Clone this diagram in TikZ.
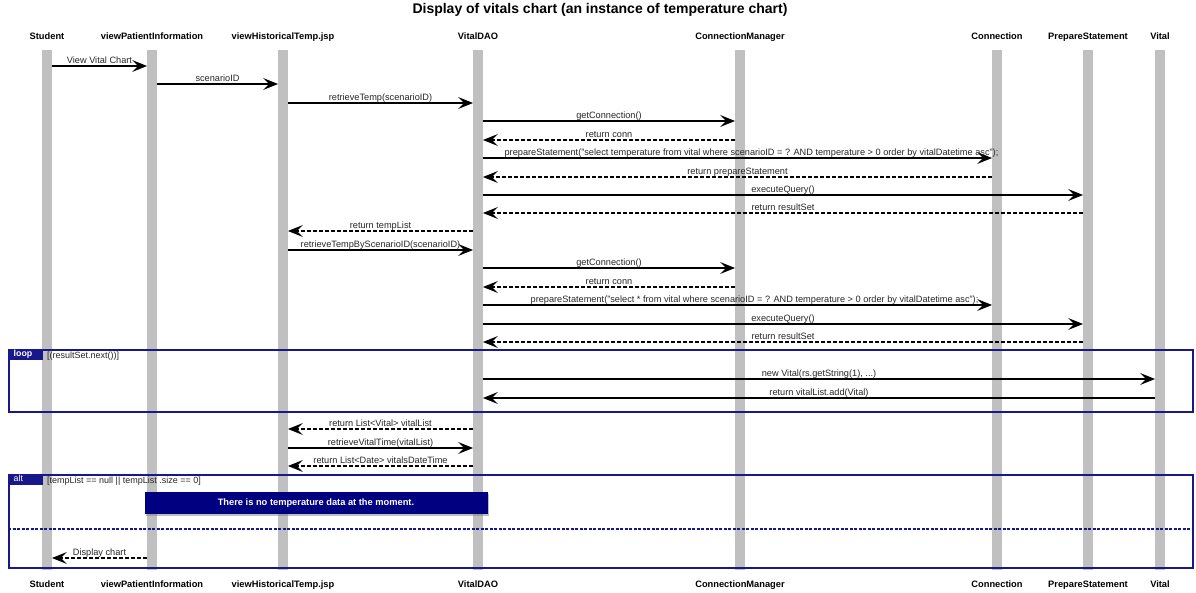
\documentclass[tikz,border=0pt]{standalone}
\usepackage{fontspec}
\setmainfont{Liberation Sans}
\usetikzlibrary{arrows.meta,shadows}
\definecolor{framec}{RGB}{24,24,140}
\definecolor{notec}{RGB}{0,0,128}
\definecolor{barc}{RGB}{192,192,192}
\newcommand\msgr[5][]{\draw[msgline,#1] (#2.east |- 0,#4) -- node[lbl] (T#4) {#5} (#3.west |- 0,#4);}
\newcommand\msgl[5][]{\draw[msgline,#1] (#2.west |- 0,#4) -- node[lbl] (T#4) {#5} (#3.east |- 0,#4);}
\begin{document}
\begin{tikzpicture}[x=1pt,y=-1pt,
  lifebar/.style={fill=barc,draw=none,minimum width=9.5pt,minimum height=520pt,inner sep=0pt},
  hdr/.style={font=\fontsize{9.3}{11}\selectfont\bfseries,inner sep=0pt,text height=7pt,text depth=2pt},
  lbl/.style={above,inner sep=0.3pt,font=\fontsize{9.2}{10}\selectfont,text=black!85,text height=6.8pt,text depth=1.6pt},
  msgline/.style={line width=1.2pt,-{Stealth[length=15pt,width=12pt,inset=6pt]}},
  ret/.style={dash pattern=on 4pt off 2pt},
  seqframe/.style={draw=framec,line width=1.8pt,fill=none,inner sep=0pt,anchor=north west,minimum width=1184pt},
  tabbox/.style={fill=framec,text=white,anchor=north west,minimum width=35pt,minimum height=10.5pt,inner sep=0pt,text width=30pt,align=left,text height=6.5pt,text depth=1.5pt},
  guard/.style={anchor=west,inner sep=0pt,font=\fontsize{9}{10}\selectfont,text=black!85},
  notebox/.style={fill=notec,text=white,minimum width=343pt,minimum height=22pt,inner sep=0pt,font=\fontsize{9.3}{11}\selectfont\bfseries,drop shadow={shadow xshift=1.5pt,shadow yshift=-1.5pt,fill=black!50}}
]
\useasboundingbox (0,0) rectangle (1196,593);
\node[font=\fontsize{14}{16}\selectfont\bfseries] (title) at (600,10) {Display of vitals chart (an instance of temperature chart)};
% lifelines
\node[lifebar] (L1) at (47,310) {};
\node[lifebar] (L2) at (152,310) {};
\node[lifebar] (L3) at (283,310) {};
\node[lifebar] (L4) at (478,310) {};
\node[lifebar] (L5) at (740,310) {};
\node[lifebar] (L6) at (997,310) {};
\node[lifebar] (L7) at (1088,310) {};
\node[lifebar] (L8) at (1160,310) {};
% headers
\foreach \n/\x/\t in {1/47/Student,2/152/viewPatientInformation,3/283/viewHistoricalTemp.jsp,4/478/VitalDAO,5/740/ConnectionManager,6/997/Connection,7/1088/PrepareStatement,8/1160/Vital}{
  \node[hdr] (H\n) at (\x,37) {\t};
  \node[hdr] (F\n) at (\x,585) {\t};
}
% frames
\node[seqframe,minimum height=62pt] (loopF) at (8,349) {};
\node[tabbox,font=\fontsize{8.8}{10}\selectfont\bfseries] (loopT) at (8,349) {\hspace*{3pt}loop};
\node[guard] (loopG) at (47,356) {[(resultSet.next())]};
\node[seqframe,minimum height=93pt] (altF) at (8,474) {};
\node[tabbox,font=\fontsize{8.8}{10}\selectfont] (altT) at (8,474) {\hspace*{3pt}alt};
\node[guard] (altG) at (47,481) {[tempList == null || tempList .size == 0]};
\coordinate (sepA) at (8,529);
\coordinate (sepB) at (1192,529);
\draw[framec,line width=1.5pt,dash pattern=on 3pt off 1.5pt] (sepA) -- (sepB);
\node[notebox] (note) at (316,503) {There is no temperature data at the moment.};
% messages
\msgr{L1}{L2}{66}{View Vital Chart}
\msgr{L2}{L3}{84}{scenarioID}
\msgr{L3}{L4}{103}{retrieveTemp(scenarioID)}
\msgr{L4}{L5}{121}{getConnection()}
\msgl[ret]{L5}{L4}{140}{return conn}
\draw[msgline] (L4.east |- 0,158) -- node[lbl,xshift=14pt] (T158) {prepareStatement("select temperature from vital where scenarioID = ? AND temperature > 0 order by vitalDatetime asc");} (L6.west |- 0,158);
\msgl[ret]{L6}{L4}{177}{return prepareStatement}
\msgr{L4}{L7}{195}{executeQuery()}
\msgl[ret]{L7}{L4}{213}{return resultSet}
\msgl[ret]{L4}{L3}{231}{return tempList}
\msgr{L3}{L4}{250}{retrieveTempByScenarioID(scenarioID)}
\msgr{L4}{L5}{268}{getConnection()}
\msgl[ret]{L5}{L4}{287}{return conn}
\draw[msgline] (L4.east |- 0,305) -- node[lbl,xshift=17pt] (T305) {prepareStatement("select * from vital where scenarioID = ? AND temperature > 0 order by vitalDatetime asc");} (L6.west |- 0,305);
\msgr{L4}{L7}{324}{executeQuery()}
\msgl[ret]{L7}{L4}{342}{return resultSet}
\msgr{L4}{L8}{379}{new Vital(rs.getString(1), ...)}
\msgl{L8}{L4}{398}{return vitalList.add(Vital)}
\msgl[ret]{L4}{L3}{429}{return List<Vital> vitalList}
\msgr{L3}{L4}{448}{retrieveVitalTime(vitalList)}
\msgl[ret]{L4}{L3}{466}{return List<Date> vitalsDateTime}
\msgl[ret]{L2}{L1}{558}{Display chart}
\end{tikzpicture}
\end{document}
